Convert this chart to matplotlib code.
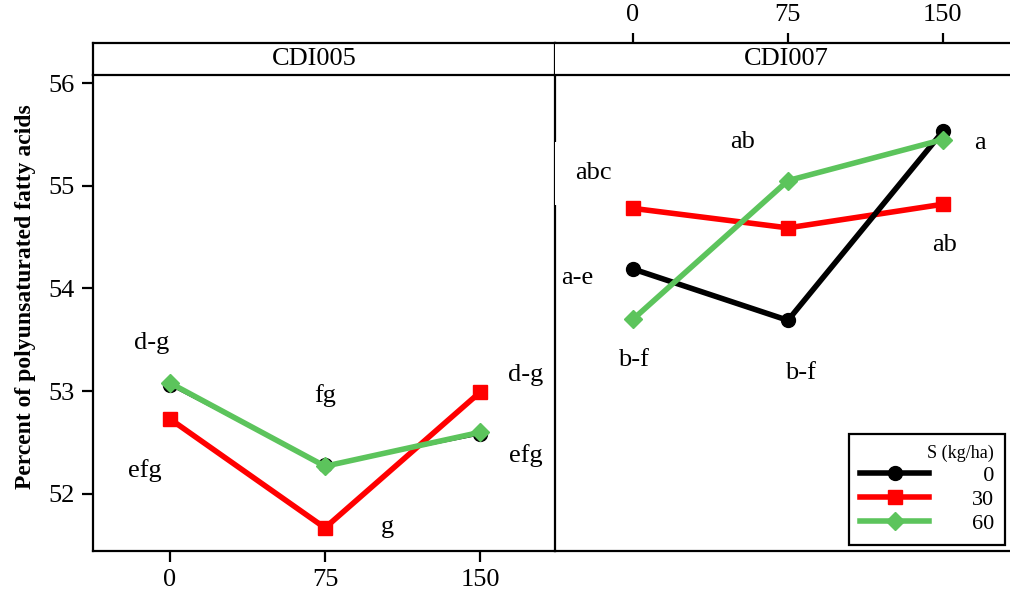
import matplotlib
matplotlib.use("Agg")
import matplotlib.pyplot as plt

plt.rcParams['font.family'] = ['Liberation Serif', 'DejaVu Serif']

doses = [0, 75, 150]
series = ["0", "30", "60"]
colors = ["black", "red", "#5cc45c"]
markers = ["o", "s", "D"]

# CDI005
cdi005 = {
    "0": [53.06, 52.28, 52.58],
    "30": [52.73, 51.67, 52.99],
    "60": [53.08, 52.27, 52.60],
}
# CDI007
cdi007 = {
    "0": [54.19, 53.69, 55.53],
    "30": [54.78, 54.59, 54.82],
    "60": [53.70, 55.05, 55.45],
}

letters005 = ["d-g", "efg", "fg", "g", "d-g", "efg"]
letters005_pos = [(-9, 53.47), (-12, 52.23), (75, 52.96), (105, 51.68), (172, 53.16), (172, 52.37)]
letters007 = ["abc", "a-e", "b-f", "ab", "b-f", "a", "ab"]
letters007_pos = [(-19, 55.12), (-27, 54.1), (0, 53.3), (53, 55.43), (81, 53.18), (168, 55.42), (151, 54.42)]

W, H = 1010, 592


def px(x0, y0, x1, y1):
    # pixel box (top-left origin) -> figure fraction
    return [x0 / W, 1 - y1 / H, (x1 - x0) / W, (y1 - y0) / H]


def main():
    fig = plt.figure(figsize=(W / 100, H / 100), dpi=100)
    ylim = (51.445, 56.078)
    fs = 19

    axL = fig.add_axes(px(93, 75, 555, 551))
    axR = fig.add_axes(px(555, 75, 1040, 551))
    stL = fig.add_axes(px(93, 43, 555, 75))
    stR = fig.add_axes(px(555, 43, 1040, 75))

    axL.set_xlim(-37.26, 186.3)
    axR.set_xlim(-37.74, 197.0)
    stR.set_xlim(axR.get_xlim())

    for ax, data in [(axL, cdi005), (axR, cdi007)]:
        for s in ["30", "0", "60"]:
            i = series.index(s)
            lw = 1.6 if (ax is axL and s == "0") else 4
            ax.plot(doses, data[s], color=colors[i], marker=markers[i],
                    lw=lw, ms=10 if markers[i] != "D" else 9, zorder=3)
        ax.set_ylim(*ylim)
        for sp in ax.spines.values():
            sp.set_linewidth(1.6)

    axL.spines['top'].set_visible(False)
    axR.spines['top'].set_visible(False)
    axR.spines['right'].set_visible(False)
    axR.spines['left'].set_visible(False)

    axL.set_yticks([52, 53, 54, 55, 56])
    axL.set_xticks(doses)
    axL.tick_params(axis='both', labelsize=fs, width=1.6, length=8, pad=5)
    axL.set_ylabel("Percent of polyunsaturated fatty acids", fontsize=17,
                   fontweight='bold')
    axL.yaxis.set_label_coords(-0.124, (551 - 297) / 476)

    axR.set_yticks([])
    axR.set_xticks([])

    for st, name, cx in [(stL, "CDI005", (314 - 93) / 462),
                         (stR, "CDI007", (786 - 555) / 485)]:
        st.set_yticks([])
        st.set_facecolor("white")
        for sp in st.spines.values():
            sp.set_linewidth(1.6)
        st.text(cx, 0.5, name, transform=st.transAxes,
                ha='center', va='center', fontsize=19)
    stL.set_xticks([])
    stR.spines['left'].set_visible(False)
    stR.spines['right'].set_visible(False)
    stR.xaxis.tick_top()
    stR.set_xticks(doses)
    stR.tick_params(axis='x', labelsize=fs, width=1.6, length=7, pad=5)

    for t, (x, y) in zip(letters005, letters005_pos):
        axL.text(x, y, t, fontsize=fs, ha='center', va='center', zorder=4)
    for t, (x, y) in zip(letters007, letters007_pos):
        if t == "abc":
            # white box hides the panel divider like in the original
            axR.text(x, y, t, fontsize=fs, ha='center', va='center', zorder=2.9,
                     clip_on=False,
                     bbox=dict(fc='white', ec='none', pad=15))
        else:
            axR.text(x, y, t, fontsize=fs, ha='center', va='center', zorder=4)
    axR.set_zorder(axL.get_zorder() + 1)
    axR.patch.set_visible(False)

    byname = {h.get_color(): h for h in axR.get_lines()}
    hs = [byname[c] for c in colors]
    leg = axR.legend(hs, ["  0", "30", "60"], title="S (kg/ha)",
                     loc='lower right', bbox_to_anchor=(1005 / W, 1 - 545 / H),
                     bbox_transform=fig.transFigure, borderaxespad=0,
                     fontsize=16, title_fontsize=13, handlelength=3.1,
                     handletextpad=1.9, borderpad=0.5, labelspacing=0.15,
                     fancybox=False, edgecolor='black', framealpha=1)
    leg.get_frame().set_linewidth(1.6)
    leg._legend_box.align = "right"

    fig.savefig("out.png", dpi=100)


if __name__ == "__main__":
    main()
